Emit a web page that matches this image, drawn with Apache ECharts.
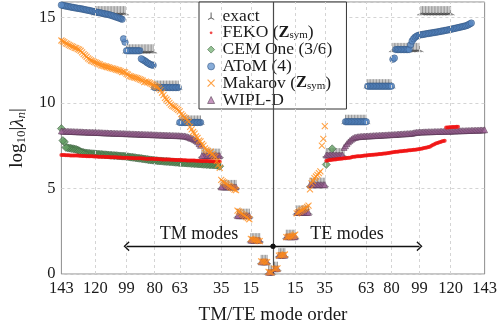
<!DOCTYPE html>
<html>
<head>
<meta charset="utf-8">
<script src="https://cdn.jsdelivr.net/npm/echarts@6/dist/echarts.min.js"></script>
<style>
html, body { margin: 0; padding: 0; background: #fff; }
#chart { width: 500px; height: 330px; }
</style>
</head>
<body>
<div id="chart"></div>
<script>
// Tick positions along the signed mode axis (TM modes to the left, TE modes to the right)
const xTickValues = [-143, -120, -99, -80, -63, -35, -15, 15, 35, 63, 80, 99, 120, 143];
const yTickValues = [0, 5, 10, 15];

// Exact eigenvalues, one value per spherical degree l = 1..10 (2l+1 modes each)
const exactTM = [0.1, 0.71, 1.98, 3.41, 5.09, 6.92, 8.86, 10.9, 13.02, 15.25];
const exactTE = [0.31, 1.1, 2.18, 3.6, 5.22, 6.95, 8.9, 10.98, 13.1, 15.25];

// WIPL-D, modes 1..143
const wiplTM = [
  0.1, 0.1, 0.1,
  0.71, 0.71, 0.71, 0.71, 0.71,
  1.98, 1.98, 1.98, 1.98, 1.98, 1.98, 1.98,
  3.41, 3.41, 3.41, 3.41, 3.41, 3.41, 3.41, 3.41, 3.41,
  5.09, 5.09, 5.09, 5.09, 5.09, 5.09, 5.09, 5.09, 5.09, 5.09, 5.09,
  6.92, 6.92, 6.92, 6.92, 6.92, 6.92, 6.92, 6.92, 6.92, 6.92, 6.92, 6.92, 6.92,
  7.52, 7.62, 7.73, 7.8, 7.85, 7.9, 7.93, 7.96, 8.0, 8.03, 8.05, 8.07, 8.07, 8.08, 8.08,
  8.09, 8.09, 8.09, 8.10, 8.10, 8.10, 8.11,
  8.11, 8.11, 8.12, 8.12, 8.12, 8.13, 8.13, 8.13, 8.14, 8.14,
  8.14, 8.15, 8.15, 8.15, 8.16, 8.16, 8.16, 8.17, 8.17, 8.17,
  8.18, 8.18, 8.18, 8.19, 8.19, 8.19, 8.20, 8.20, 8.20, 8.21,
  8.21, 8.21, 8.22, 8.22, 8.22, 8.23, 8.23, 8.23, 8.24, 8.24,
  8.24, 8.25, 8.25, 8.25, 8.26, 8.26, 8.27, 8.27, 8.27, 8.28,
  8.28, 8.28, 8.29, 8.29, 8.29, 8.30, 8.30, 8.30, 8.31, 8.31,
  8.31, 8.32, 8.32, 8.32, 8.33, 8.33, 8.33, 8.34, 8.34, 8.34, 8.35, 8.35, 8.36
];
const wiplTE = [
  0.31, 0.31, 0.31,
  1.1, 1.1, 1.1, 1.1, 1.1,
  2.18, 2.18, 2.18, 2.18, 2.18, 2.18, 2.18,
  3.6, 3.6, 3.6, 3.6, 3.6, 3.6, 3.6, 3.6, 3.6,
  5.22, 5.22, 5.22, 5.22, 5.22, 5.22, 5.22, 5.22, 5.22, 5.22, 5.22,
  6.95, 6.95, 6.95, 6.95, 6.95, 6.95, 6.95, 6.95, 6.95, 6.95, 6.95, 6.95, 7.4,
  7.5, 7.62, 7.72, 7.8, 7.87, 7.93, 7.98, 8.0, 8.02, 8.03, 8.04, 8.05,
  8.05, 8.06, 8.06, 8.07, 8.07, 8.08, 8.08, 8.09, 8.09, 8.10,
  8.10, 8.11, 8.11, 8.12, 8.12, 8.13, 8.13, 8.14, 8.14, 8.15,
  8.15, 8.16, 8.16, 8.17, 8.18, 8.18, 8.19, 8.19, 8.2, 8.2,
  8.21, 8.21, 8.22, 8.23, 8.25, 8.27, 8.28, 8.29, 8.3, 8.3,
  8.3, 8.31, 8.31, 8.31, 8.32, 8.32, 8.32, 8.32, 8.33, 8.33,
  8.33, 8.33, 8.34, 8.34, 8.34, 8.34, 8.35, 8.35, 8.35, 8.35,
  8.36, 8.36, 8.36, 8.37, 8.37, 8.37, 8.38, 8.38, 8.38, 8.38,
  8.39, 8.39, 8.39, 8.4, 8.4, 8.4, 8.41, 8.41, 8.41, 8.42, 8.42, 8.42, 8.43
];

// Makarov (Zsym): TM modes 1..143, TE modes 1..35
const makarovTM = [
  0.1, 0.1, 0.12,
  0.7, 0.7, 0.72, 0.72, 0.74,
  1.92, 1.94, 1.96, 1.98, 2.0, 2.02, 2.05,
  3.2, 3.27, 3.33, 3.4, 3.46, 3.52, 3.6, 3.65, 3.7,
  4.9, 4.93, 5.0, 5.05, 5.1, 5.15, 5.22, 5.28, 5.35, 5.42, 5.5,
  6.2, 6.38, 6.6, 6.85, 6.9, 7.0, 7.15, 7.1, 7.2, 7.25, 7.35, 7.5, 7.6,
  7.75, 7.8, 7.95, 8.05, 8.2, 8.3, 8.45, 8.6, 8.9, 9.0, 9.1, 9.15, 9.25, 9.35, 9.5,
  9.6, 9.65, 9.72, 9.78, 9.83, 9.9, 10.0, 10.1, 10.2, 10.3, 10.45, 10.6, 10.75, 10.85, 10.92, 10.95, 11.0,
  11.05, 11.1, 11.15, 11.2, 11.2, 11.25, 11.22, 11.3, 11.35, 11.38,
  11.42, 11.45, 11.48, 11.5, 11.52, 11.55, 11.58, 11.65, 11.7,
  11.78, 11.82, 11.8, 11.86, 11.9, 11.92, 11.95, 11.97, 12.0, 12.02,
  12.05, 12.08, 12.1, 12.13, 12.15, 12.18, 12.2, 12.25, 12.28, 12.32, 12.37,
  12.4, 12.45, 12.48, 12.55, 12.6, 12.7, 12.78, 12.85, 12.95, 13.05,
  13.12, 13.15, 13.2, 13.22, 13.28, 13.3, 13.35, 13.4, 13.45, 13.48, 13.55, 13.6, 13.65
];
const makarovTE = [
  0.3, 0.31, 0.33,
  1.08, 1.1, 1.1, 1.12, 1.14,
  2.15, 2.17, 2.18, 2.2, 2.22, 2.25, 2.3,
  3.55, 3.6, 3.65, 3.7, 3.75, 3.8, 3.85, 3.92, 4.0,
  4.95, 5.3, 5.45, 5.6, 5.7, 5.8, 5.9, 6.0, 7.5, 7.9, 8.65
];

// AToM (4): starting at mode 49
const atomStart = 49;
const atomTM = [
  8.86, 8.86, 8.86, 8.86, 8.86, 8.86, 8.86, 8.86, 8.86, 8.86, 8.86, 8.86, 8.86, 8.86, 8.86,
  10.9, 10.9, 10.9, 10.9, 10.9, 10.9, 10.9, 10.9, 10.9, 10.9, 10.9, 10.9, 10.9, 10.9, 10.9, 10.9, 10.9,
  12.2, 12.22, 12.25, 12.3, 12.35, 12.42, 12.48, 12.52, 12.58,
  13.05, 13.05, 13.05, 13.05, 13.05, 13.05, 13.05, 13.05, 13.05, 13.05,
  13.55, 13.75,
  14.89, 14.93, 14.96, 14.99, 15.02, 15.05, 15.08, 15.11, 15.14, 15.16,
  15.18, 15.2, 15.21, 15.23, 15.25, 15.27, 15.28, 15.3, 15.32, 15.34,
  15.36, 15.38, 15.4, 15.42, 15.43, 15.45, 15.47, 15.49, 15.5, 15.52,
  15.53, 15.55, 15.56, 15.58, 15.6, 15.61, 15.63, 15.65, 15.66, 15.68,
  15.7, 15.72
];
const atomTE = [
  8.9, 8.9, 8.9, 8.9, 8.9, 8.9, 8.9, 8.9, 8.9, 8.9, 8.9, 8.9, 8.9, 8.9, 8.9,
  10.98, 10.98, 10.98, 10.98, 10.98, 10.98, 10.98, 10.98, 10.98, 10.98, 10.98, 10.98, 10.98, 10.98, 10.98, 10.98, 10.98,
  12.55, 12.62,
  13.12, 13.12, 13.12, 13.12, 13.12, 13.12, 13.12, 13.12, 13.12, 13.12,
  13.4, 13.62, 13.75, 13.84, 13.9, 13.94, 13.97, 13.99,
  14.0, 14.02, 14.03, 14.05, 14.06, 14.08, 14.09, 14.1, 14.12, 14.13,
  14.15, 14.16, 14.18, 14.2, 14.21, 14.23, 14.25, 14.26, 14.28, 14.3,
  14.32, 14.34, 14.36, 14.38, 14.4, 14.42, 14.44, 14.46, 14.48, 14.5,
  14.53, 14.57, 14.62, 14.67
];

// FEKO (Zsym): starting at mode 36
const fekoStart = 36;
const fekoTM = [
  6.57, 6.57, 6.58, 6.58, 6.58, 6.59, 6.59, 6.59, 6.60, 6.60,
  6.60, 6.61, 6.61, 6.61, 6.62, 6.62, 6.62, 6.63, 6.63, 6.63,
  6.64, 6.64, 6.64, 6.65, 6.65, 6.65, 6.66, 6.66, 6.67, 6.67,
  6.67, 6.68, 6.68, 6.68, 6.69, 6.69, 6.69, 6.70, 6.70, 6.70,
  6.71, 6.71, 6.72, 6.72, 6.72, 6.73, 6.73, 6.73, 6.74, 6.74,
  6.74, 6.75, 6.75, 6.76, 6.76, 6.76, 6.77, 6.77, 6.77, 6.78,
  6.78, 6.78, 6.79, 6.79, 6.80, 6.80, 6.80, 6.81, 6.81, 6.81,
  6.82, 6.82, 6.83, 6.83, 6.83, 6.84, 6.84, 6.84, 6.85, 6.85,
  6.86, 6.86, 6.86, 6.87, 6.87, 6.87, 6.88, 6.88, 6.89, 6.89,
  6.89, 6.90, 6.90, 6.90, 6.91, 6.91, 6.92, 6.92, 6.92, 6.93,
  6.93, 6.93, 6.94, 6.94, 6.94, 6.95, 6.95, 6.96
];
const fekoTE = [
  6.62, 6.64, 6.66, 6.67, 6.68, 6.69, 6.70, 6.71, 6.72, 6.73, 6.74, 6.75, 6.76,
  6.77, 6.78, 6.79, 6.8, 6.82, 6.85, 6.86, 6.87, 6.88, 6.88, 6.89, 6.9, 6.91, 6.92, 6.93,
  6.94, 6.95, 6.96, 6.97, 6.97, 6.98, 6.99, 7.0, 7.01, 7.02, 7.03, 7.04, 7.05, 7.06, 7.08, 7.09, 7.1,
  7.12, 7.13, 7.14, 7.15, 7.16, 7.17, 7.18, 7.19, 7.2, 7.21, 7.22, 7.23, 7.24, 7.25, 7.26, 7.27, 7.28, 7.29, 7.3,
  7.32, 7.34, 7.36, 7.38, 7.4, 7.42, 7.44, 7.49, 7.54, 7.59, 7.63, 7.66, 7.69, 7.72, 7.75, 7.77, 7.79,
  8.56, 8.57, 8.58, 8.58, 8.59, 8.6, 8.6, 8.61, 8.61
];

// CEM One (3/6): starting at mode 36
const cemStart = 36;
const cemTM = [
  6.3, 6.34, 6.36, 6.37, 6.37, 6.38, 6.38, 6.39, 6.4, 6.4,
  6.41, 6.41, 6.42, 6.43, 6.43, 6.44, 6.45, 6.45, 6.46, 6.46,
  6.47, 6.48, 6.48, 6.49, 6.49, 6.5, 6.51, 6.51, 6.52, 6.53,
  6.53, 6.54, 6.55, 6.56, 6.56, 6.57, 6.58, 6.58, 6.59, 6.6,
  6.61, 6.61, 6.62, 6.63, 6.64, 6.65, 6.66, 6.67, 6.68, 6.7,
  6.71, 6.72, 6.73, 6.75, 6.76, 6.77, 6.78, 6.8, 6.81, 6.82,
  6.83, 6.84, 6.86, 6.87, 6.88, 6.89, 6.89, 6.9, 6.9, 6.91,
  6.92, 6.92, 6.93, 6.94, 6.94, 6.95, 6.96, 6.97, 6.97, 6.98,
  6.99, 7.0, 7.0, 7.01, 7.02, 7.03, 7.03, 7.04, 7.05, 7.06,
  7.07, 7.08, 7.1, 7.12, 7.15, 7.2, 7.25, 7.28, 7.3, 7.32,
  7.33, 7.35, 7.36, 7.38, 7.4, 7.72, 7.8, 8.5
];
const cemTE = [6.4, null, null, null, 7.32];

// Annotation positions (mode, value)
const arrowLevel = 1.62;
const arrowEnd = 99;
const modeLabelPos = [50, 2.3];

const serif = "'Liberation Serif', 'Times New Roman', serif";
const ink = '#1a1a1a';
const triSymbol = 'path://M4,7L4,0M4,7L0,9M4,7L8,9';
const crossSymbol = 'path://M0,0L10,10M10,0L0,10';
const dotIcon = 'path://M0,0M10,10M5,3A2,2,0,1,1,5,7A2,2,0,1,1,5,3Z';
const chevron = 'path://M5,0L10,6L8.8,6.8L5,2L1.2,6.8L0,6Z';

function pointsFrom(values, start, side) {
  const pts = [];
  values.forEach((v, i) => { if (v !== null) pts.push([side * (start + i), v]); });
  return pts;
}
function pointsByDegree(levels, side) {
  const pts = [];
  levels.forEach((v, k) => {
    const l = k + 1;
    for (let n = l * l; n <= l * l + 2 * l; n++) pts.push([side * n, v]);
  });
  return pts;
}

const base = { type: 'scatter', animation: false, emphasis: { disabled: true }, silent: true };

const chart = echarts.init(document.getElementById('chart'), null, { renderer: 'canvas' });
chart.setOption({
  animation: false,
  grid: { left: 58, right: 14, top: 2, height: 275, show: true, borderColor: '#8c8c8c', borderWidth: 1, backgroundColor: 'transparent' },
  xAxis: {
    type: 'value', min: -143, max: 143,
    name: 'TM/TE mode order', nameLocation: 'middle', nameGap: 32,
    nameTextStyle: { fontFamily: serif, fontSize: 19, color: ink },
    axisLine: { show: false }, axisTick: { show: false }, splitLine: { show: false },
    axisLabel: {
      customValues: xTickValues, formatter: v => String(Math.abs(v)),
      fontFamily: serif, fontSize: 16.5, color: ink, margin: 6
    }
  },
  yAxis: {
    type: 'value', min: 0, max: 15.9, interval: 5,
    name: '{a|log}{s|10}{a||}{i|λ}{si|n}{a||}', nameLocation: 'middle', nameGap: 27, nameRotate: 90,
    nameTextStyle: {
      fontFamily: serif, fontSize: 19, color: ink,
      rich: {
        a: { fontFamily: serif, fontSize: 19, color: ink },
        s: { fontFamily: serif, fontSize: 13, color: ink, padding: [8, 0, 0, 0] },
        i: { fontFamily: serif, fontSize: 19, fontStyle: 'italic', color: ink },
        si: { fontFamily: serif, fontSize: 13, fontStyle: 'italic', color: ink, padding: [8, 0, 0, 0] }
      }
    },
    axisLine: { show: false }, axisTick: { show: false },
    axisLabel: { customValues: yTickValues, fontFamily: serif, fontSize: 16.5, color: ink, margin: 6 },
    splitLine: { show: true, lineStyle: { color: '#d4d4d4', type: [3, 3], width: 1 } }
  },
  legend: {
    orient: 'vertical', left: 199, top: 2,
    padding: [5, 14, 0, 8], itemGap: -1.2, itemWidth: 7, itemHeight: 7,
    borderColor: '#333', borderWidth: 1, backgroundColor: '#fff',
    selectedMode: false,
    textStyle: {
      fontFamily: serif, fontSize: 17.5, color: ink, lineHeight: 16, padding: [0, 0, 0, 3],
      rich: {
        z: { fontFamily: serif, fontSize: 16.5, fontWeight: 'bold', color: ink, lineHeight: 16 },
        s: { fontFamily: serif, fontSize: 11, color: ink, padding: [5, 0, 0, 0], lineHeight: 9 }
      }
    },
    formatter: name => ({
      'FEKO': 'FEKO ({z|Z}{s|sym})',
      'Makarov': 'Makarov ({z|Z}{s|sym})'
    }[name] || name),
    data: [
      { name: 'exact', icon: triSymbol, itemStyle: { color: 'rgba(0,0,0,0)', borderColor: '#333', borderWidth: 1 } },
      { name: 'FEKO', icon: dotIcon, itemStyle: { color: '#ee1c1c', borderWidth: 0 } },
      { name: 'CEM One (3/6)', icon: 'diamond', itemStyle: { color: '#7db57d', borderColor: '#4a6e4a', borderWidth: 0.8 } },
      { name: 'AToM (4)', icon: 'circle', itemStyle: { color: '#6a98d0', borderColor: '#3d5f8c', borderWidth: 0.8 } },
      { name: 'Makarov', icon: crossSymbol, itemStyle: { color: 'rgba(0,0,0,0)', borderColor: '#ff8c1a', borderWidth: 1.2 } },
      { name: 'WIPL-D', icon: 'triangle', itemStyle: { color: '#b57aae', borderColor: '#5e4a5c', borderWidth: 0.8 } }
    ]
  },
  series: [
    {
      // dashed vertical grid lines and the centre divider
      ...base, name: 'grid', data: [], z: 1,
      markLine: {
        silent: true, symbol: 'none', label: { show: false }, animation: false,
        data: xTickValues.filter(v => Math.abs(v) < 143).map(v => ({
          xAxis: v, lineStyle: { color: '#d4d4d4', type: [3, 3], width: 1 }
        })).concat([{ xAxis: 0, lineStyle: { color: '#4a4a4a', type: 'solid', width: 1.2 } }])
      }
    },
    {
      ...base, name: 'exact', z: 2,
      data: pointsByDegree(exactTM, -1).concat(pointsByDegree(exactTE, 1)),
      symbol: triSymbol, symbolSize: [8, 9], symbolOffset: [0, -2.5],
      itemStyle: { color: 'rgba(0,0,0,0)', borderColor: '#222', borderWidth: 0.6 }
    },
    {
      ...base, name: 'CEM One (3/6)', z: 3,
      data: pointsFrom(cemTM, cemStart, -1).concat(pointsFrom(cemTE, cemStart, 1)),
      symbol: 'diamond', symbolSize: 8,
      itemStyle: { color: '#629c62', borderColor: '#2e4a33', borderWidth: 0.6 }
    },
    {
      ...base, name: 'AToM (4)', z: 4,
      data: pointsFrom(atomTM, atomStart, -1).concat(pointsFrom(atomTE, atomStart, 1)),
      symbol: 'circle', symbolSize: 6.5,
      itemStyle: { color: '#5787c2', borderColor: '#2d4d78', borderWidth: 0.6 }
    },
    {
      ...base, name: 'WIPL-D', z: 5,
      data: pointsFrom(wiplTM, 1, -1).concat(pointsFrom(wiplTE, 1, 1)),
      symbol: 'triangle', symbolSize: 6,
      itemStyle: { color: '#a4689c', borderColor: '#4d3149', borderWidth: 0.6 }
    },
    {
      ...base, name: 'FEKO', z: 6,
      data: pointsFrom(fekoTM, fekoStart, -1).concat(pointsFrom(fekoTE, fekoStart, 1)),
      symbol: 'circle', symbolSize: 4,
      itemStyle: { color: '#f01010', borderWidth: 0 }
    },
    {
      ...base, name: 'Makarov', z: 7,
      data: pointsFrom(makarovTM, 1, -1).concat(pointsFrom(makarovTE, 1, 1)),
      symbol: crossSymbol, symbolSize: 6,
      itemStyle: { color: 'rgba(0,0,0,0)', borderColor: '#ff8c1a', borderWidth: 1.1 }
    },
    {
      // TM / TE direction arrows and their captions
      ...base, name: 'annotations', data: [], z: 8,
      markLine: {
        silent: true, animation: false, label: { show: false },
        lineStyle: { color: '#111', type: 'solid', width: 1.4 },
        data: [-1, 1].map(side => [
          { coord: [0, arrowLevel], symbol: 'circle', symbolSize: 5 },
          { coord: [side * arrowEnd, arrowLevel], symbol: chevron, symbolSize: [10, 6] }
        ])
      },
      markPoint: {
        silent: true, animation: false, symbol: 'circle', symbolSize: 1,
        itemStyle: { color: 'rgba(0,0,0,0)' },
        label: { show: true, position: 'inside', fontFamily: serif, fontSize: 18, color: ink },
        data: [
          { coord: [-modeLabelPos[0], modeLabelPos[1]], value: 'TM modes', label: { formatter: 'TM modes' } },
          { coord: [modeLabelPos[0], modeLabelPos[1]], value: 'TE modes', label: { formatter: 'TE modes' } }
        ]
      }
    }
  ]
});
</script>
</body>
</html>
